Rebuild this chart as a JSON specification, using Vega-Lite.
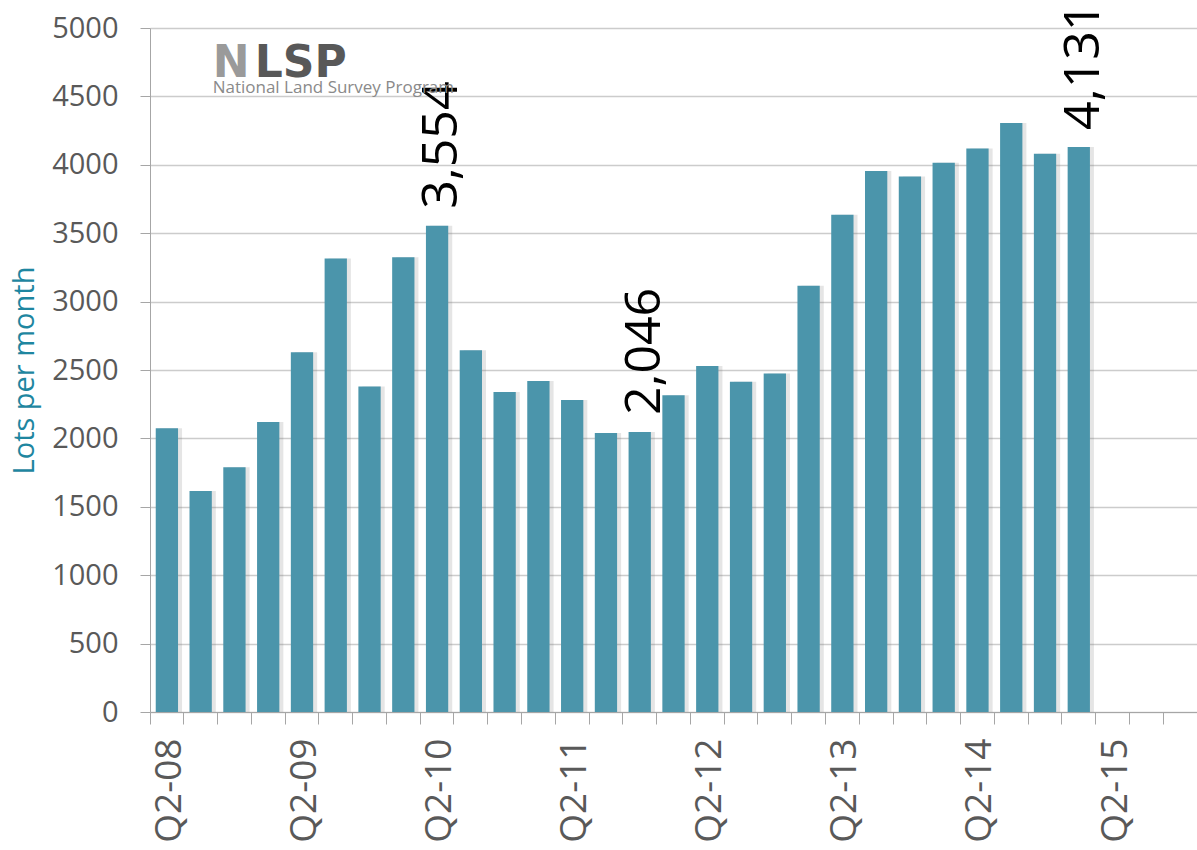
{
  "$schema": "https://vega.github.io/schema/vega-lite/v6.json",
  "width": 1047,
  "height": 684,
  "autosize": {"type": "none"},
  "padding": {"left": 150, "top": 28, "right": 0, "bottom": 138},
  "background": "white",
  "config": {"view": {"stroke": null}, "font": "Open Sans"},
  "data": {
    "values": [
      {"quarter": "Q2-08", "value": 2075, "label": null},
      {"quarter": "Q3-08", "value": 1615, "label": null},
      {"quarter": "Q4-08", "value": 1790, "label": null},
      {"quarter": "Q1-09", "value": 2120, "label": null},
      {"quarter": "Q2-09", "value": 2630, "label": null},
      {"quarter": "Q3-09", "value": 3315, "label": null},
      {"quarter": "Q4-09", "value": 2380, "label": null},
      {"quarter": "Q1-10", "value": 3325, "label": null},
      {"quarter": "Q2-10", "value": 3554, "label": "3,554"},
      {"quarter": "Q3-10", "value": 2645, "label": null},
      {"quarter": "Q4-10", "value": 2340, "label": null},
      {"quarter": "Q1-11", "value": 2420, "label": null},
      {"quarter": "Q2-11", "value": 2280, "label": null},
      {"quarter": "Q3-11", "value": 2040, "label": null},
      {"quarter": "Q4-11", "value": 2046, "label": "2,046"},
      {"quarter": "Q1-12", "value": 2315, "label": null},
      {"quarter": "Q2-12", "value": 2530, "label": null},
      {"quarter": "Q3-12", "value": 2415, "label": null},
      {"quarter": "Q4-12", "value": 2475, "label": null},
      {"quarter": "Q1-13", "value": 3115, "label": null},
      {"quarter": "Q2-13", "value": 3635, "label": null},
      {"quarter": "Q3-13", "value": 3955, "label": null},
      {"quarter": "Q4-13", "value": 3915, "label": null},
      {"quarter": "Q1-14", "value": 4015, "label": null},
      {"quarter": "Q2-14", "value": 4120, "label": null},
      {"quarter": "Q3-14", "value": 4305, "label": null},
      {"quarter": "Q4-14", "value": 4080, "label": null},
      {"quarter": "Q1-15", "value": 4131, "label": "4,131"}
    ]
  },
  "layer": [
    {
      "mark": {"type": "bar", "color": "#6f6f6f", "opacity": 0.18, "width": {"band": 0.66}, "xOffset": 4},
      "encoding": {
        "x": {
          "field": "quarter",
          "type": "ordinal",
          "sort": null,
          "scale": {
            "domain": ["Q2-08","Q3-08","Q4-08","Q1-09","Q2-09","Q3-09","Q4-09","Q1-10","Q2-10","Q3-10","Q4-10","Q1-11","Q2-11","Q3-11","Q4-11","Q1-12","Q2-12","Q3-12","Q4-12","Q1-13","Q2-13","Q3-13","Q4-13","Q1-14","Q2-14","Q3-14","Q4-14","Q1-15","Q2-15","Q3-15","Q4-15"],
            "paddingInner": 0,
            "paddingOuter": 0
          },
          "axis": {
            "title": null,
            "bandPosition": 0,
            "labelOffset": 3,
            "labelAngle": -90,
            "labelExpr": "indexof(datum.value, 'Q2') == 0 ? datum.value : ''",
            "labelOverlap": false,
            "labelBound": false,
            "labelFontSize": 37,
            "labelColor": "#595959",
            "labelPadding": 14,
            "tickSize": 12,
            "tickColor": "#a6a6a6",
            "domainColor": "#a6a6a6",
            "grid": false
          }
        },
        "y": {
          "field": "value",
          "type": "quantitative",
          "scale": {"domain": [0, 5000], "nice": false},
          "axis": {
            "values": [0, 500, 1000, 1500, 2000, 2500, 3000, 3500, 4000, 4500, 5000],
            "format": "d",
            "title": "Lots per month",
            "titleColor": "#1e86a0",
            "titleFontSize": 29,
            "titleFontWeight": "normal",
            "titlePadding": 12,
            "labelFontSize": 29,
            "labelColor": "#595959",
            "labelPadding": 22,
            "tickSize": 10,
            "tickColor": "#a6a6a6",
            "domainColor": "#a6a6a6",
            "gridColor": "#cccccc",
            "gridWidth": 1.5
          }
        }
      }
    },
    {
      "mark": {"type": "bar", "color": "#4b95ab", "width": {"band": 0.66}},
      "encoding": {
        "x": {"field": "quarter", "type": "ordinal", "sort": null},
        "y": {"field": "value", "type": "quantitative"}
      }
    },
    {
      "transform": [{"filter": "datum.label != null"}],
      "mark": {"type": "text", "angle": 270, "align": "left", "baseline": "middle", "dx": 17, "dy": 5, "fontSize": 50, "color": "black"},
      "encoding": {
        "x": {"field": "quarter", "type": "ordinal", "sort": null},
        "y": {"field": "value", "type": "quantitative"},
        "text": {"field": "label"}
      }
    },
    {
      "data": {"values": [{"quarter": "Q3-08", "value": 4642, "text": "N"}]},
      "mark": {"type": "text", "align": "left", "baseline": "alphabetic", "dx": 12, "fontSize": 44, "fontWeight": "bold", "font": "DejaVu Sans", "color": "#9a9a9a"},
      "encoding": {
        "x": {"field": "quarter", "type": "ordinal", "sort": null},
        "y": {"field": "value", "type": "quantitative"},
        "text": {"field": "text"}
      }
    },
    {
      "data": {"values": [{"quarter": "Q3-08", "value": 4642, "text": "LSP"}]},
      "mark": {"type": "text", "align": "left", "baseline": "alphabetic", "dx": 54, "fontSize": 44, "fontWeight": "bold", "font": "DejaVu Sans", "color": "#585858"},
      "encoding": {
        "x": {"field": "quarter", "type": "ordinal", "sort": null},
        "y": {"field": "value", "type": "quantitative"},
        "text": {"field": "text"}
      }
    },
    {
      "data": {"values": [{"quarter": "Q3-08", "value": 4525, "text": "National Land Survey Program"}]},
      "mark": {"type": "text", "align": "left", "baseline": "alphabetic", "dx": 12, "fontSize": 17, "color": "#8a8a8a"},
      "encoding": {
        "x": {"field": "quarter", "type": "ordinal", "sort": null},
        "y": {"field": "value", "type": "quantitative"},
        "text": {"field": "text"}
      }
    }
  ]
}
